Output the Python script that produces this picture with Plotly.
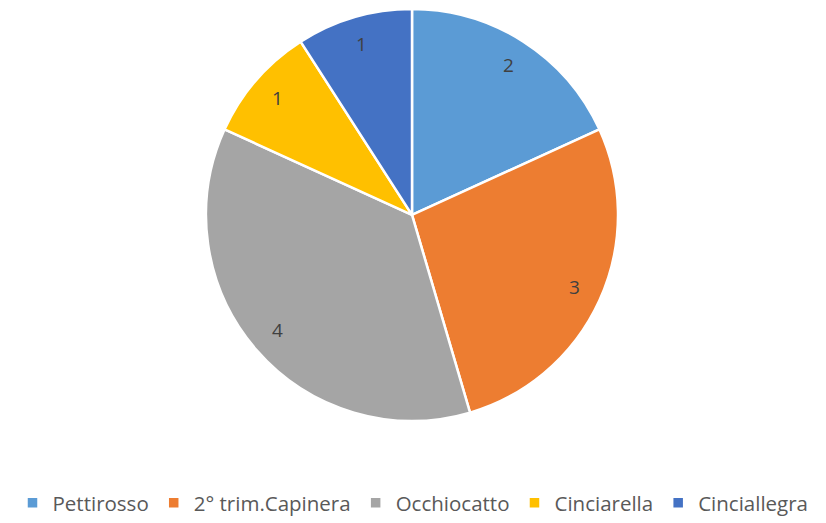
import math
import plotly.graph_objects as go

# Species counts
species = ["Pettirosso", "2° trim.Capinera", "Occhiocatto", "Cinciarella", "Cinciallegra"]
counts = [2, 3, 4, 1, 1]
colors = ["#5B9BD5", "#ED7D31", "#A5A5A5", "#FFC000", "#4472C4"]

W, H = 826, 523
cx, cy, R = 412, 216, 205  # pie centre and radius in pixels (y from top)
pad = 3  # plotly trims the pie slightly inside its domain
dy = 1   # small vertical nudge of the drawn pie

fig = go.Figure(go.Pie(
    labels=species,
    values=counts,
    sort=False,
    direction="clockwise",
    rotation=0,
    marker=dict(colors=colors, line=dict(color="white", width=2.5)),
    textinfo="none",
    hoverinfo="label+value",
    domain=dict(x=[(cx - R - pad) / W, (cx + R + pad) / W],
                y=[(H - cy - dy - R - pad) / H, (H - cy - dy + R + pad) / H]),
))

# Value labels placed towards the outer edge of each slice
total = sum(counts)
acc = 0
annotations = []
for v in counts:
    mid = (acc + v / 2) / total * 2 * math.pi
    acc += v
    px = cx + 0.87 * R * math.sin(mid)
    py = cy - 0.87 * R * math.cos(mid)
    annotations.append(dict(
        x=px / W, y=1 - py / H, xref="paper", yref="paper",
        xanchor="center", yanchor="middle",
        text=str(v), showarrow=False,
        font=dict(size=19, color="#404040", family="Open Sans, sans-serif"),
    ))

fig.update_layout(
    width=W, height=H,
    margin=dict(l=0, r=0, t=0, b=0),
    paper_bgcolor="white",
    plot_bgcolor="white",
    annotations=annotations,
    showlegend=True,
    legend=dict(
        orientation="h",
        x=0.5, xanchor="center",
        y=(H - 508) / H, yanchor="middle",
        font=dict(size=20.5, color="#595959", family="Open Sans, sans-serif"),
        itemclick=False,
        tracegroupgap=0,
    ),
)

fig.write_html("out.html")
